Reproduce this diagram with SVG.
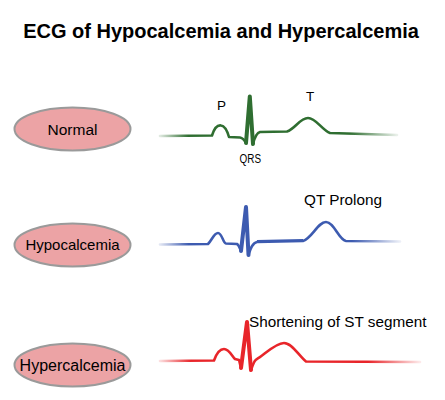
<svg xmlns="http://www.w3.org/2000/svg" width="445" height="400" viewBox="0 0 445 400">
<style>
text{font-family:"Liberation Sans",Arial,sans-serif;fill:#000}
.title{font-size:20px;font-weight:bold}
.node{fill:#eca3a5;stroke:#9a9a9a;stroke-width:2}
.lbl{font-size:15px;text-anchor:middle}
.wave{fill:none;stroke-width:2.6;stroke-linejoin:round;stroke-linecap:round}
.spike{fill:none;stroke-width:4;stroke-linejoin:round;stroke-linecap:round}
</style>
<defs>
<linearGradient id="gG" gradientUnits="userSpaceOnUse" x1="160" y1="0" x2="397" y2="0">
<stop offset="0" stop-color="#2f6e31" stop-opacity="0.15"/><stop offset="0.12" stop-color="#2f6e31"/><stop offset="0.8" stop-color="#2f6e31"/><stop offset="1" stop-color="#2f6e31" stop-opacity="0.1"/>
</linearGradient>
<linearGradient id="gB" gradientUnits="userSpaceOnUse" x1="160" y1="0" x2="400" y2="0">
<stop offset="0" stop-color="#3d5bb0" stop-opacity="0.15"/><stop offset="0.12" stop-color="#3d5bb0"/><stop offset="0.8" stop-color="#3d5bb0"/><stop offset="1" stop-color="#3d5bb0" stop-opacity="0.1"/>
</linearGradient>
<linearGradient id="gR" gradientUnits="userSpaceOnUse" x1="160" y1="0" x2="420" y2="0">
<stop offset="0" stop-color="#e8252a" stop-opacity="0.15"/><stop offset="0.12" stop-color="#e8252a"/><stop offset="0.8" stop-color="#e8252a"/><stop offset="1" stop-color="#e8252a" stop-opacity="0.1"/>
</linearGradient>
</defs>
<rect width="445" height="400" fill="#fff"/>
<text class="title" x="221" y="37.5" text-anchor="middle">ECG of Hypocalcemia and Hypercalcemia</text>

<g id="normal">
<ellipse class="node" cx="72.5" cy="129" rx="58" ry="21.5"/>
<text class="lbl" x="72.5" y="134.5" style="font-size:15.5px">Normal</text>
</g>
<g id="hypocalcemia">
<ellipse class="node" cx="72.5" cy="245" rx="58" ry="21.5"/>
<text class="lbl" x="72.5" y="250" style="font-size:15px">Hypocalcemia</text>
</g>
<g id="hypercalcemia">
<ellipse class="node" cx="72.5" cy="365" rx="58" ry="21.5"/>
<text class="lbl" x="72.5" y="370.5" style="font-size:16px">Hypercalcemia</text>
</g>

<g id="connectors">
<g id="ecg-normal">
<path class="wave" stroke="url(#gG)" d="M160,136 L212,135.5 C215,126 218,125 221,125.5 C225,126 227,130 229,137 L240,137.5 C243,138 245,141 246,143 M253,144 C254,140 256,133 260,132 L287,131.5 C295,129 300,118 308,118 C316,118 322,130 330,133 L397,135"/>
<path class="spike" stroke="#2f6e31" d="M246,143 L249.8,96.5 L253,144"/>
</g>
<g id="ecg-hypo">
<path class="wave" stroke="url(#gB)" d="M160,244.5 L208,244 C212,240 214,233 218,233 C222,233 223,243 226,243.5 L237,244 C239,245 240,249 241,251 M248.5,255 C250,250 252,243 257,242 L303,241 C312,238 318,222 326,222 C334,222 339,240 346,241 L400,241.5"/>
<path class="spike" stroke="#3d5bb0" d="M241,251 L246,207 L248.5,255"/>
<path fill="none" stroke="#3d5bb0" stroke-width="2" d="M257,241 L303,240"/>
</g>
<g id="ecg-hyper">
<path class="wave" stroke="url(#gR)" d="M160,361 L214,360.5 C217,352 220,349 224,349 C229,349 232,356 235,359 L239,360 L241,368 M251,370 C253,365 254,360 257,359 C263,356 275,343 284,343 C292,343 299,356 306,361.5 L420,362"/>
<path class="spike" stroke="#e8252a" d="M241,368 L247,322 L251,370"/>
</g>
</g>

<g id="labels">
<text x="221.5" y="109.5" style="font-size:13.5px" text-anchor="middle">P</text>
<text x="310" y="100.5" style="font-size:13.5px" text-anchor="middle">T</text>
<text x="239.5" y="163" style="font-size:12px" textLength="21.5" lengthAdjust="spacingAndGlyphs">QRS</text>
<text x="304" y="205" style="font-size:15.3px">QT Prolong</text>
<text x="249" y="326.5" style="font-size:15.3px">Shortening of ST segment</text>
</g>
</svg>
